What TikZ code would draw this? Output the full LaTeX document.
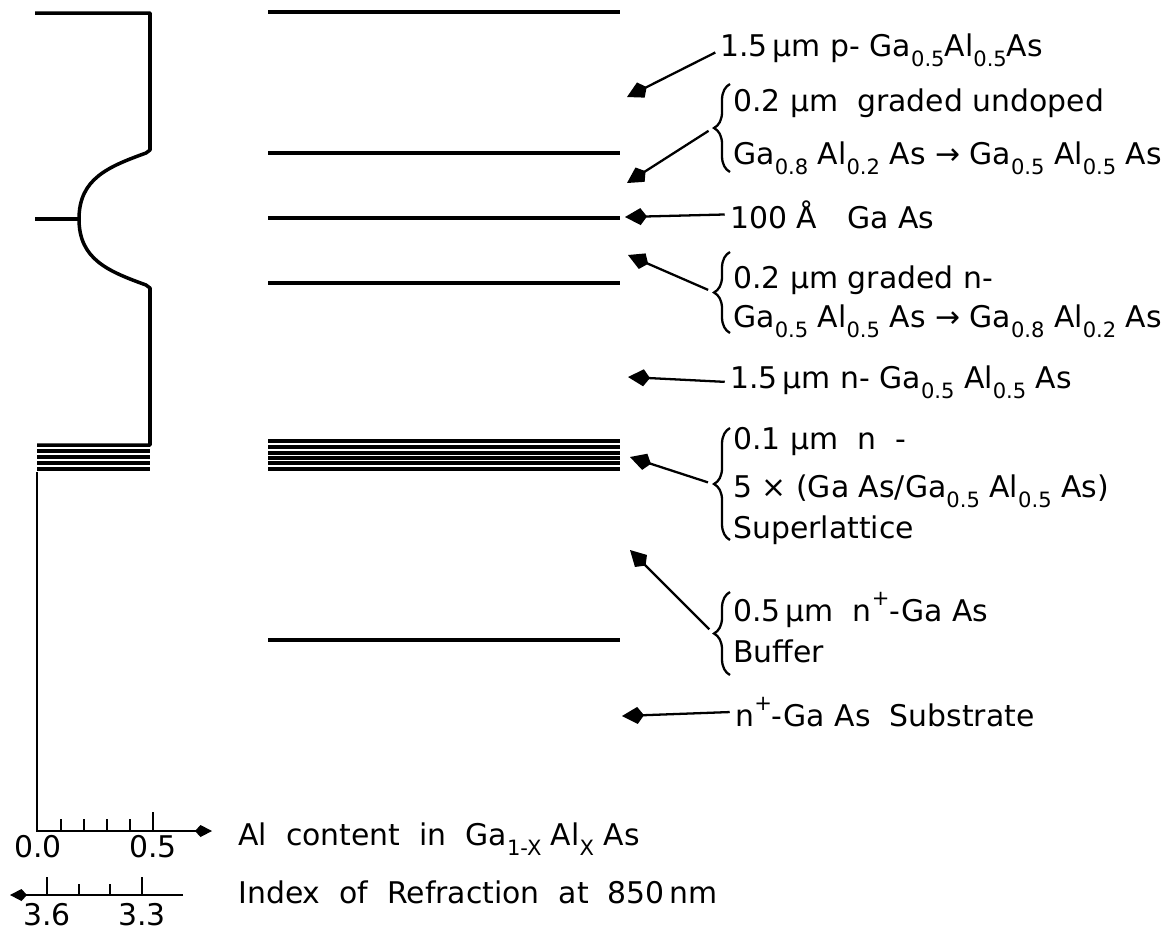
\documentclass[tikz,border=0pt]{standalone}
\usepackage{fontspec}
\setmainfont{DejaVu Sans}
\usetikzlibrary{arrows.meta,decorations.pathreplacing}

\tikzset{
  prof/.style={line width=2pt, line join=round},
  layer/.style={line width=2pt},
  axis/.style={line width=1.3pt},
  lbl/.style={anchor=base west, inner sep=0pt, font=\fontsize{17}{20}\selectfont},
  ptr/.style={line width=1.3pt, shorten <=3pt, -{Kite[length=4.4mm,width=3.4mm,inset=1.3mm]}},
  brc/.style={line width=1.3pt, decorate, decoration={brace, amplitude=3.2mm}}
}
\newcommand\sub[1]{\raisebox{-0.65ex}{\fontsize{12}{12}\selectfont #1}}
\newcommand\upr[1]{\raisebox{0.95ex}{\fontsize{12}{12}\selectfont #1}}

\begin{document}
\begin{tikzpicture}[x=0.02cm, y=-0.02cm]
\useasboundingbox ( 0, 0 ) rectangle ( 1170, 931 );

% Al-Profil
\draw[prof] ( 35, 13 ) -- ( 150, 13 ) -- ( 150, 150 ) -- ( 146, 153 )
  to[out=200, in=90, looseness=1.1] ( 79, 219 ) to[out=-90, in=160, looseness=1.1] ( 146, 285 )
  -- ( 150, 288 ) -- ( 150, 445 ) -- ( 37, 445 );
\draw[prof] ( 35, 219 ) -- ( 79, 219 );
\draw[prof] ( 37, 451 ) -- ( 150, 451 );
\draw[prof] ( 37, 457 ) -- ( 150, 457 );
\draw[prof] ( 37, 463 ) -- ( 150, 463 );
\draw[prof] ( 37, 469 ) -- ( 150, 469 );

% Achsen
\draw[axis, -{Kite[length=3.4mm,width=2.4mm,inset=1.1mm]}] ( 37, 472 ) -- ( 37, 831 ) -- ( 212, 831 );
\draw[axis] (  61, 831 ) -- (  61, 819 );
\draw[axis] (  84, 831 ) -- (  84, 819 );
\draw[axis] ( 107, 831 ) -- ( 107, 819 );
\draw[axis] ( 130, 831 ) -- ( 130, 819 );
\draw[axis] ( 153, 831 ) -- ( 153, 812 );
\node[lbl, anchor=base] (x00) at (  38, 857 ) {0.0};
\node[lbl, anchor=base] (x05) at ( 153, 857 ) {0.5};

\draw[axis, -{Kite[length=3.4mm,width=2.4mm,inset=1.1mm]}] ( 183, 895 ) -- ( 10, 895 );
\draw[axis] (  47, 895 ) -- (  47, 877 );
\draw[axis] (  79, 895 ) -- (  79, 884 );
\draw[axis] ( 110, 895 ) -- ( 110, 884 );
\draw[axis] ( 142, 895 ) -- ( 142, 877 );
\node[lbl, anchor=base] (n36) at (  47, 925 ) {3.6};
\node[lbl, anchor=base] (n33) at ( 142, 925 ) {3.3};

\node[lbl] (alx) at ( 238, 845 ) {Al\ \ content\ \ in\ \ Ga\sub{1-X} Al\sub{X} As};
\node[lbl] (idx) at ( 238, 903 ) {Index\ \ of\ \ Refraction\ \ at\ \ 850\,nm};

% Schichten
\draw[layer] ( 268,  12 ) -- ( 620,  12 );
\draw[layer] ( 268, 153 ) -- ( 620, 153 );
\draw[layer] ( 268, 218 ) -- ( 620, 218 );
\draw[layer] ( 268, 283 ) -- ( 620, 283 );
\draw[layer] ( 268, 441 ) -- ( 620, 441 );
\draw[layer] ( 268, 447 ) -- ( 620, 447 );
\draw[layer] ( 268, 453 ) -- ( 620, 453 );
\draw[layer] ( 268, 458 ) -- ( 620, 458 );
\draw[layer] ( 268, 463 ) -- ( 620, 463 );
\draw[layer] ( 268, 469 ) -- ( 620, 469 );
\draw[layer] ( 268, 640 ) -- ( 620, 640 );

% Beschriftung
\node[lbl] (l1)  at ( 720,  56 ) {1.5\,µm p- Ga\sub{0.5}Al\sub{0.5}As};
\node[lbl] (l2a) at ( 733, 111 ) {0.2 µm\ \ graded undoped};
\node[lbl] (l2b) at ( 733, 164 ) {Ga\sub{0.8} Al\sub{0.2} As → Ga\sub{0.5} Al\sub{0.5} As};
\node[lbl] (l3)  at ( 730, 228 ) {100 Å\quad Ga As};
\node[lbl] (l4a) at ( 733, 288 ) {0.2 µm graded n-};
\node[lbl] (l4b) at ( 733, 327 ) {Ga\sub{0.5} Al\sub{0.5} As → Ga\sub{0.8} Al\sub{0.2} As};
\node[lbl] (l5)  at ( 730, 388 ) {1.5\,µm n- Ga\sub{0.5} Al\sub{0.5} As};
\node[lbl] (l6a) at ( 733, 449 ) {0.1 µm\ \ n\ \ -};
\node[lbl] (l6b) at ( 733, 497 ) {5 × (Ga As/Ga\sub{0.5} Al\sub{0.5} As)};
\node[lbl] (l6c) at ( 733, 538 ) {Superlattice};
\node[lbl] (l7a) at ( 733, 621 ) {0.5\,µm\ \ n\upr{+}-Ga As};
\node[lbl] (l7b) at ( 733, 662 ) {Buffer};
\node[lbl] (l8)  at ( 735, 726 ) {n\upr{+}-Ga As\ \ Substrate};

% Klammern
\draw[brc] ( 730, 172 ) -- ( 730,  84 );
\draw[brc] ( 730, 333 ) -- ( 730, 252 );
\draw[brc] ( 730, 540 ) -- ( 730, 428 );
\draw[brc] ( 730, 675 ) -- ( 730, 592 );
\coordinate (b2) at ( 713, 128 );
\coordinate (b4) at ( 713, 292 );
\coordinate (b6) at ( 713, 484 );
\coordinate (b7) at ( 713, 633 );

% Pfeile
\coordinate (t1) at ( 627,  97 );
\coordinate (t2) at ( 627, 183 );
\coordinate (t3) at ( 625, 217 );
\coordinate (t4) at ( 628, 255 );
\coordinate (t5) at ( 628, 377 );
\coordinate (t6) at ( 630, 457 );
\coordinate (t7) at ( 630, 550 );
\coordinate (t8) at ( 622, 716 );
\draw[ptr] (l1.west) -- (t1);
\draw[ptr] (b2) -- (t2);
\draw[ptr] (l3.west) -- (t3);
\draw[ptr] (b4) -- (t4);
\draw[ptr] (l5.west) -- (t5);
\draw[ptr] (b6) -- (t6);
\draw[ptr] (b7) -- (t7);
\draw[ptr] (l8.west) -- (t8);

\end{tikzpicture}
\end{document}
